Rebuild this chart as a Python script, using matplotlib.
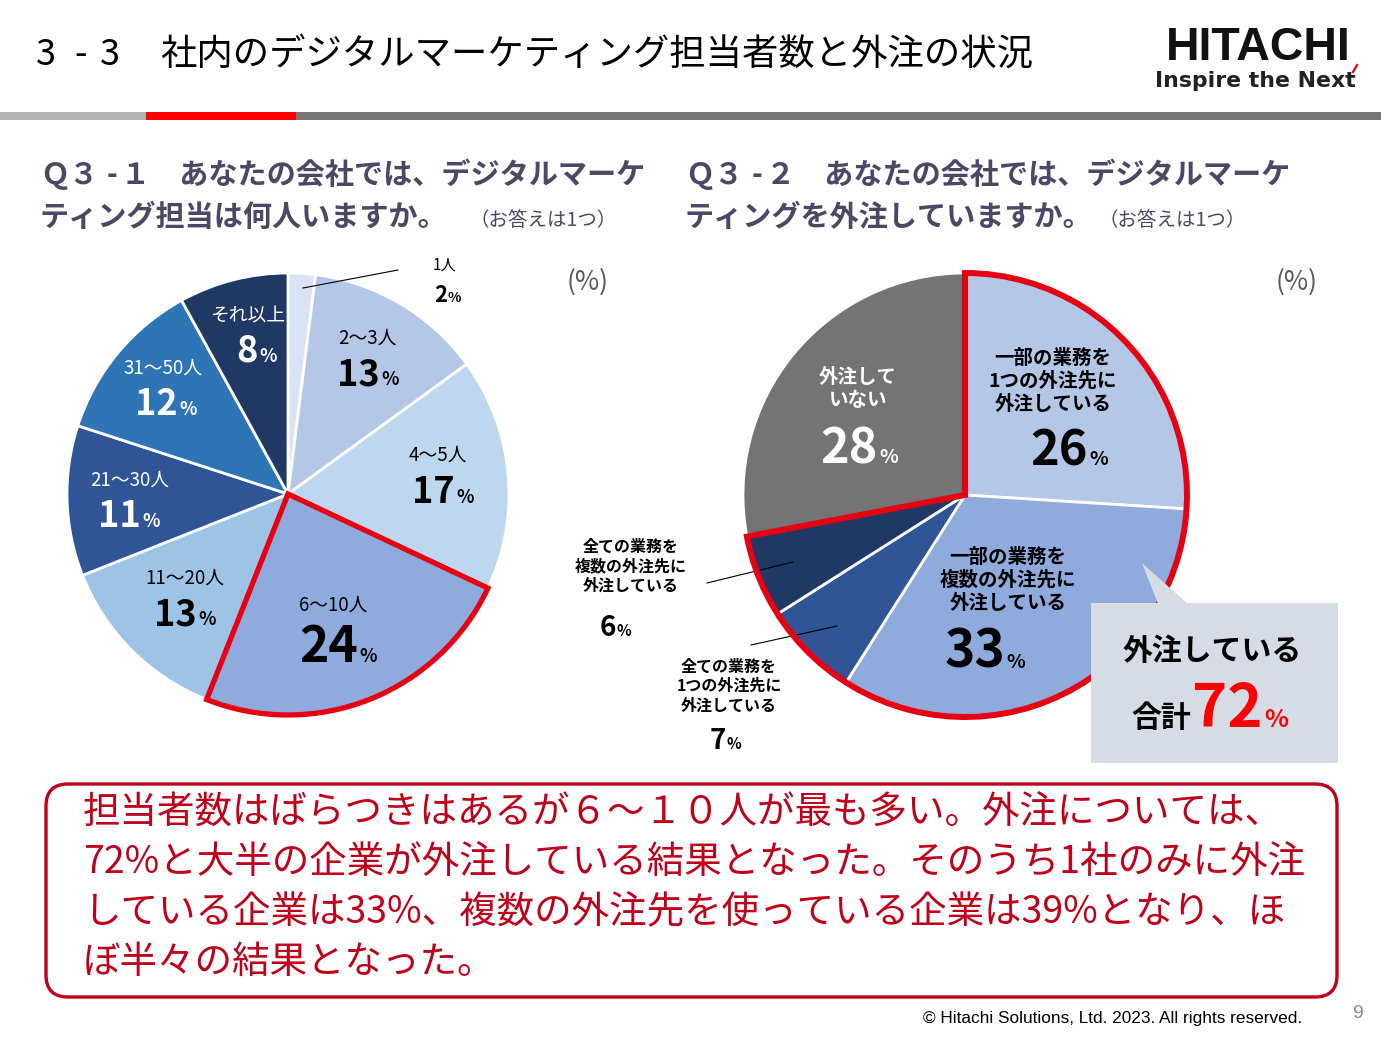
import matplotlib
matplotlib.use('Agg')
import matplotlib.pyplot as plt
from matplotlib.patches import Wedge, Rectangle, Polygon, FancyBboxPatch

plt.rcParams['font.family'] = ['Noto Sans CJK JP', 'DejaVu Sans']

W, H = 1381, 1039

# Q3-1: デジタルマーケティング担当者数
staff_labels = ['1人', '2～3人', '4～5人', '6～10人', '11～20人', '21～30人', '31～50人', 'それ以上']
staff_values = [2, 13, 17, 24, 13, 11, 12, 8]
staff_colors = ['#dae3f3', '#b4c7e7', '#bdd7ee', '#8faadc', '#9dc3e6', '#2f5597', '#2e75b6', '#203864']
staff_highlight = 3

# Q3-2: 外注の状況
out_labels = ['一部の業務を\n1つの外注先に\n外注している',
              '一部の業務を\n複数の外注先に\n外注している',
              '全ての業務を\n1つの外注先に\n外注している',
              '全ての業務を\n複数の外注先に\n外注している',
              '外注して\nいない']
out_values = [26, 33, 7, 6, 28]
out_colors = ['#b4c7e7', '#8faadc', '#2f5597', '#203864', '#747474']
out_total = 72

title_no = ['3', '-', '3']
title = '社内のデジタルマーケティング担当者数と外注の状況'
q1 = ['１　あなたの会社では、デジタルマーケ', 'ティング担当は何人いますか。']
q2 = ['２　あなたの会社では、デジタルマーケ', 'ティングを外注していますか。']
note = '（お答えは1つ）'
summary = ['担当者数はばらつきはあるが６～１０人が最も多い。外注については、',
           '72%と大半の企業が外注している結果となった。そのうち1社のみに外注',
           'している企業は33%、複数の外注先を使っている企業は39%となり、ほ',
           'ぼ半々の結果となった。']

RED = '#e60012'
QCOL = '#4d4766'
DRED = '#c0001a'

fig = plt.figure(figsize=(W / 100, H / 100), dpi=100)
ax = fig.add_axes([0, 0, 1, 1])

# header
for s, x in zip(title_no, [46, 81, 110]):
    ax.text(x, 55, s, fontsize=26, va='center', ha='center', color='black')
ax.text(160, 55, title, fontsize=26.2, va='center', ha='left', color='black')
ax.text(1166, 60, 'HITACHI', family='Liberation Sans', fontweight='bold', fontsize=33.5,
        va='baseline', ha='left', color='#111111')
ax.text(1155, 87, 'Inspire the Next', family='DejaVu Sans', fontweight='bold', fontsize=15.8,
        va='baseline', ha='left', color='#222222')
ax.plot([1353, 1357], [72, 65], color=RED, lw=1.6)
ax.add_patch(Rectangle((0, 112), 146, 8, color='#b3b3b3', lw=0))
ax.add_patch(Rectangle((146, 112), 150, 8, color='#ff0000', lw=0))
ax.add_patch(Rectangle((296, 112), W - 296, 8, color='#777777', lw=0))

# questions
for x0, q, nx in [(40, q1, 470), (685, q2, 1099)]:
    ax.text(x0, 175, 'Ｑ３', fontsize=21, fontweight='bold', color=QCOL, va='center', ha='left')
    ax.text(x0 + 72, 175, '-', fontsize=21, fontweight='bold', color=QCOL, va='center', ha='center')
    ax.text(x0 + 81, 175, q[0], fontsize=21, fontweight='bold', color=QCOL, va='center', ha='left')
    ax.text(x0, 217, q[1], fontsize=21, fontweight='bold', color=QCOL, va='center', ha='left')
    ax.text(nx, 220, note, fontsize=14, color=QCOL, va='center', ha='left')
ax.text(588, 282, '(%)', fontsize=19, color='#595959', va='center', ha='center')
ax.text(1297, 282, '(%)', fontsize=19, color='#595959', va='center', ha='center')

wp = dict(edgecolor='white', linewidth=2)

# left pie
w1, _ = ax.pie(staff_values, colors=staff_colors, startangle=-90, counterclock=True,
               center=(288, 494), radius=221, wedgeprops=wp, frame=True)
hw = w1[staff_highlight]
ax.add_patch(Wedge(hw.center, hw.r, hw.theta1, hw.theta2, fill=False, ec=RED, lw=3.8,
                   joinstyle='miter', zorder=5))

lab_pos = [(445, 265), (367, 338), (438, 455), (333, 605), (185, 578), (130, 480), (163, 368), (248, 316)]
val_pos = [(447, 302), (380, 385), (455, 503), (358, 662), (197, 625), (141, 527), (178, 415), (258, 362)]
val_size = [16, 26, 26, 36, 26, 26, 26, 26]
txt_col = ['black'] * 5 + ['white'] * 3


def pct(x, y, num, size, psize, color):
    ax.text(x, y, str(num), ha='right', va='baseline', fontsize=size, fontweight='bold',
            color=color, zorder=8)
    ax.text(x + 1, y, '%', ha='left', va='baseline', fontsize=psize, fontweight='bold',
            color=color, zorder=8)


for i, (lab, v) in enumerate(zip(staff_labels, staff_values)):
    fs = 11 if i == 0 else 13.5
    ax.text(*lab_pos[i], lab, fontsize=fs, ha='center', va='center', color=txt_col[i], zorder=8)
    pct(*val_pos[i], v, val_size[i], 10 if i == 0 else 13, txt_col[i])
ax.plot([303, 398], [288, 270], color='black', lw=0.8)

# right pie
w2, _ = ax.pie(out_values, colors=out_colors, startangle=-90, counterclock=True,
               center=(965, 495), radius=222, wedgeprops=wp, frame=True)
ax.add_patch(Wedge(w2[0].center, w2[0].r, w2[0].theta1, w2[3].theta2, fill=False, ec=RED,
                   lw=4.3, joinstyle='miter', zorder=5))

olab_pos = [(1053, 381), (1008, 580), (729, 686), (631, 566), (858, 389)]
olab_size = [14, 14, 11.5, 11.5, 14]
oval_pos = [(1088, 465), (1005, 668), (726, 749), (616, 636), (878, 463)]
oval_size = [35, 37, 20, 20, 35]
ocol = ['black'] * 4 + ['white']
for i, (lab, v) in enumerate(zip(out_labels, out_values)):
    ax.text(*olab_pos[i], lab, fontsize=olab_size[i], fontweight='bold', ha='center', va='center',
            multialignment='center', linespacing=1.25, color=ocol[i], zorder=8)
    pct(*oval_pos[i], v, oval_size[i], 14 if oval_size[i] > 30 else 11, ocol[i])
ax.plot([707, 793], [583, 562], color='black', lw=0.8)
ax.plot([751, 837], [645, 626], color='black', lw=0.8)

# callout
ax.add_patch(Polygon([(1142, 563), (1158, 604), (1188, 604)], closed=True, color='#d6dce5', lw=0, zorder=6))
ax.add_patch(Rectangle((1091, 603), 247, 160, color='#d6dce5', lw=0, zorder=6))
ax.text(1212, 651, '外注している', fontsize=21.5, fontweight='bold', ha='center', va='center',
        color='black', zorder=8)
ax.text(1191, 727, '合計', fontsize=21.5, fontweight='bold', ha='right', va='baseline', color='black', zorder=8)
ax.text(1263, 727, str(out_total), fontsize=43, fontweight='bold', ha='right', va='baseline',
        color='#ff0000', zorder=8)
ax.text(1264, 727, '%', fontsize=18, fontweight='bold', ha='left', va='baseline', color='#ff0000', zorder=8)

# summary box
ax.add_patch(FancyBboxPatch((46, 784), 1291, 213, boxstyle='round,pad=0,rounding_size=22',
                            fill=False, ec=DRED, lw=2.4))
for k, line in enumerate(summary):
    ax.text(83, 812 + 50 * k, line, fontsize=27, color=DRED, ha='left', va='center')

# footer
ax.text(1302, 1019, '© Hitachi Solutions, Ltd. 2023. All rights reserved.', family='Liberation Sans',
        fontsize=12.4, ha='right', va='center', color='black')
ax.text(1358, 1013, '9', family='Liberation Sans', fontsize=14, ha='center', va='center', color='#8c8c8c')

ax.set_xlim(0, W)
ax.set_ylim(H, 0)
ax.set_aspect('auto')
ax.axis('off')

fig.savefig('out.png', dpi=100)
